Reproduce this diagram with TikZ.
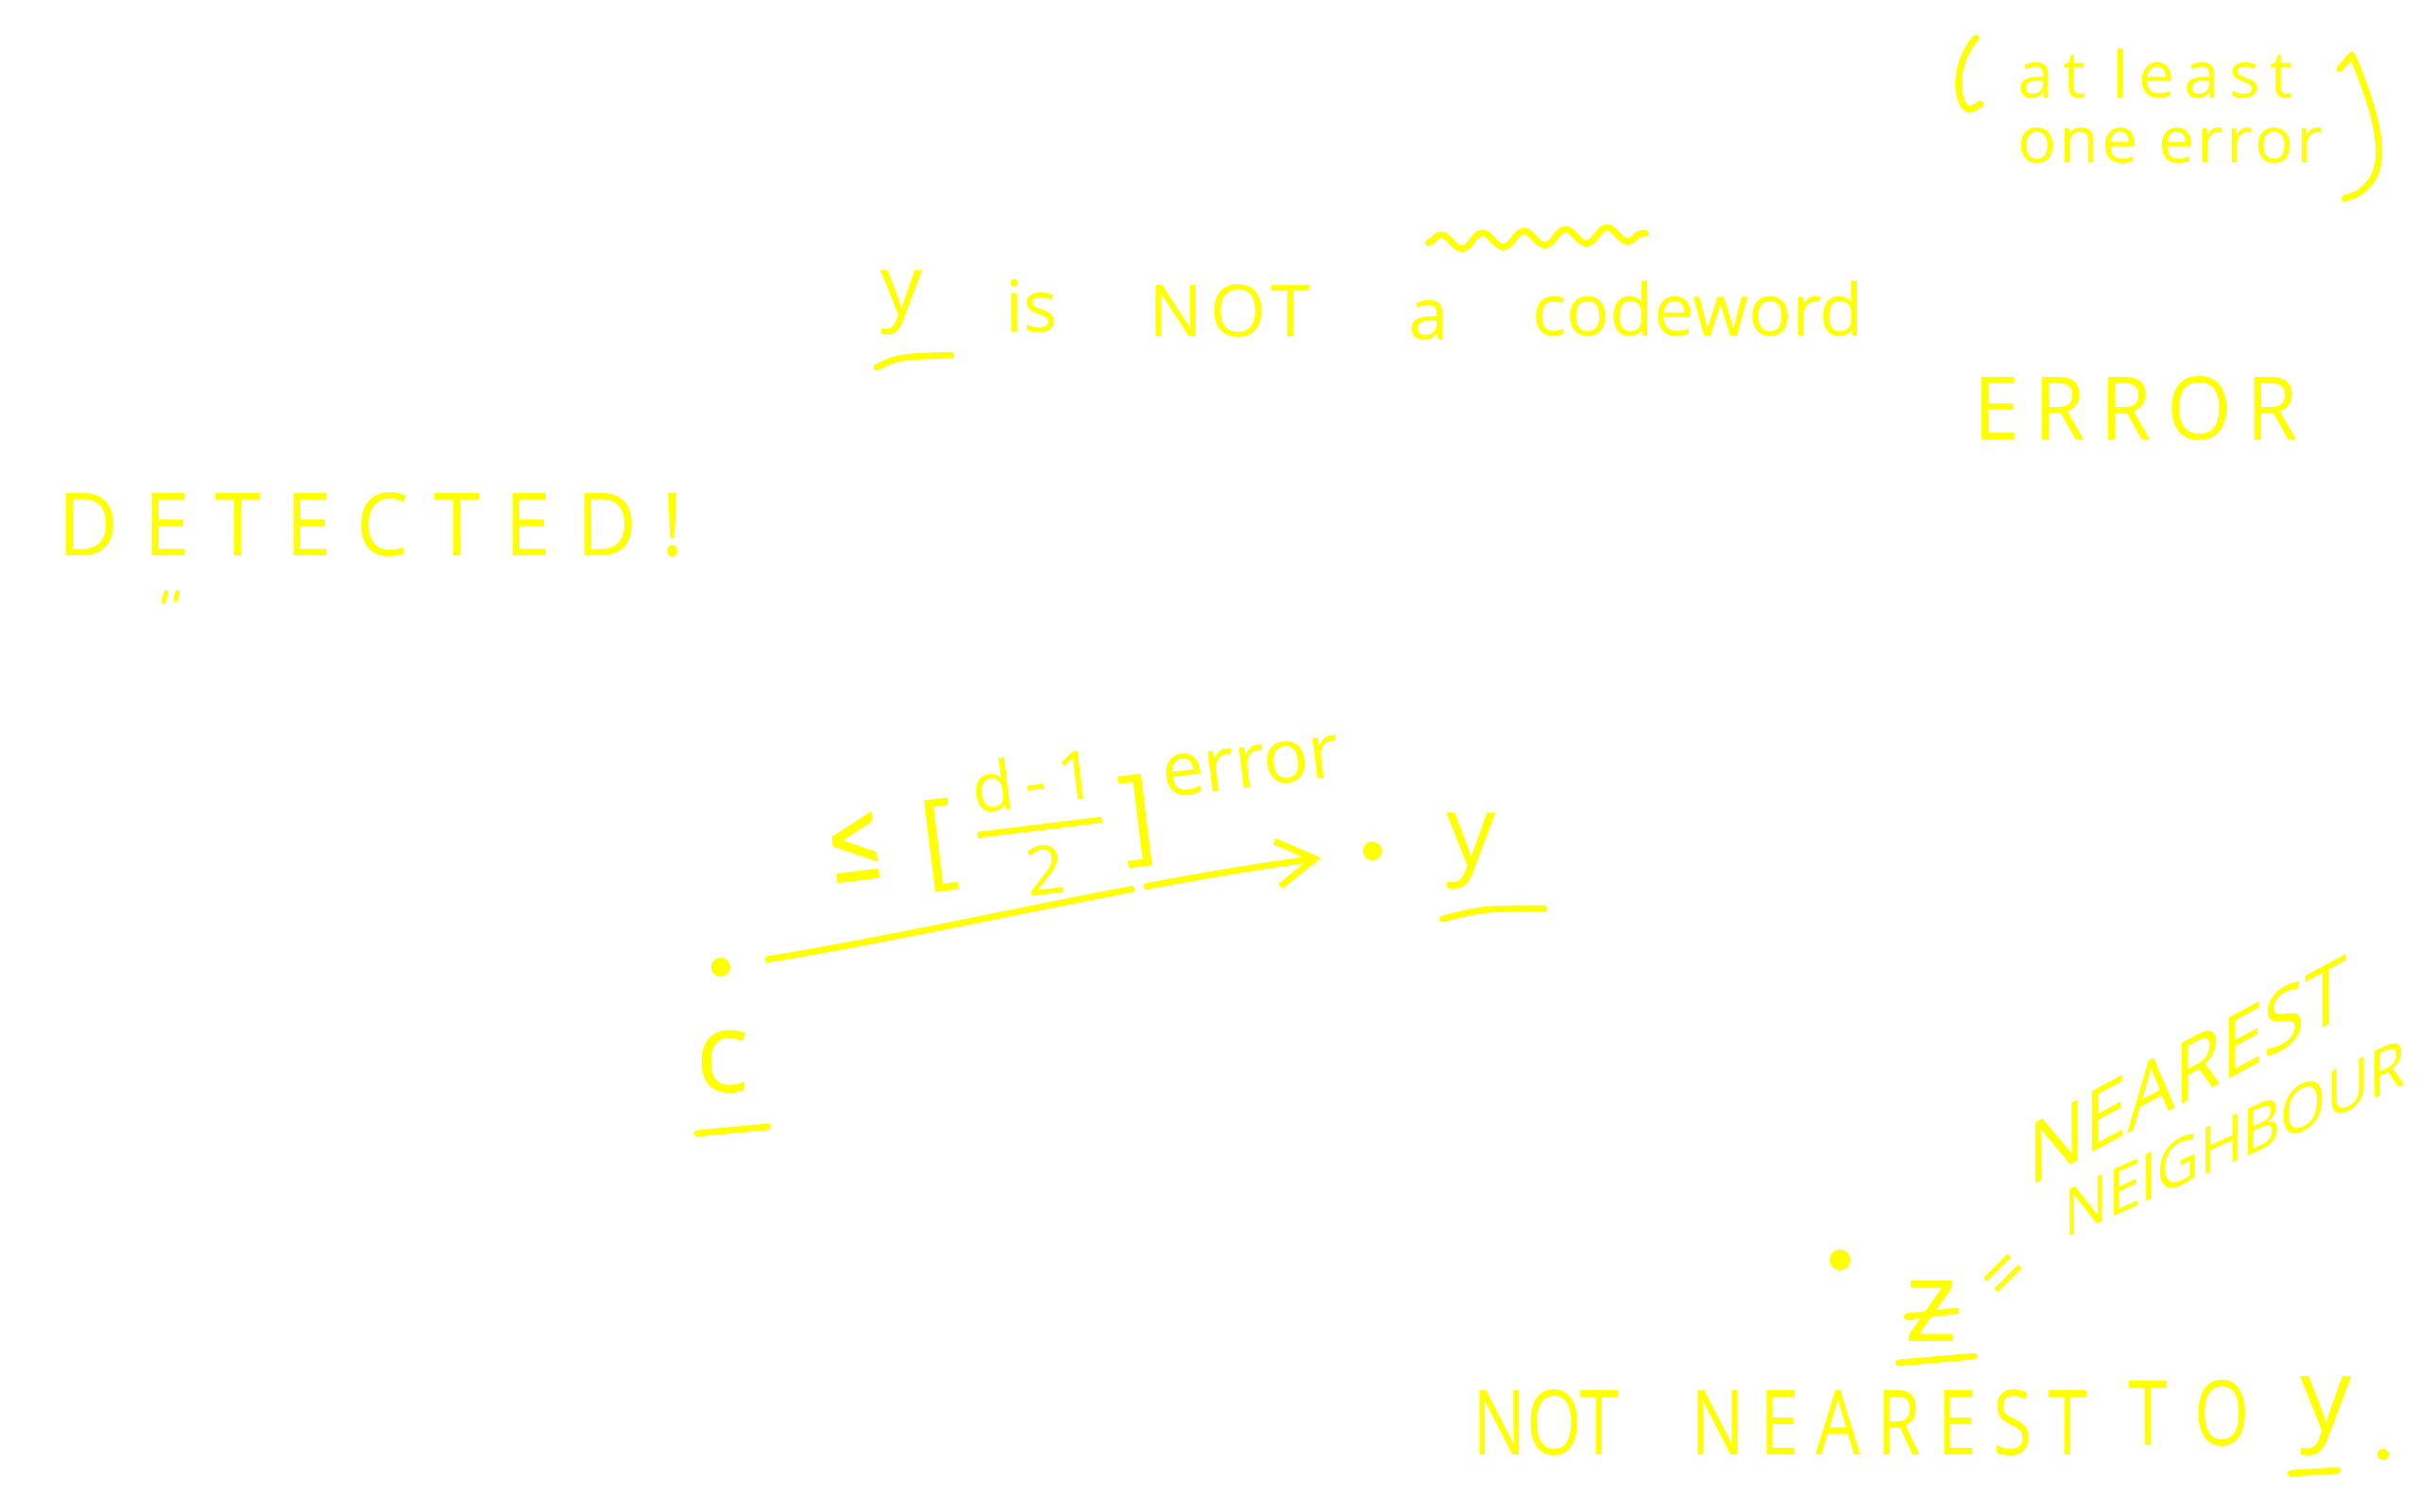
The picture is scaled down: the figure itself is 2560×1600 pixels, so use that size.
\documentclass[tikz,border=0pt]{standalone}
\usepackage{graphicx}
\usepackage{fontspec}
\setmainfont{Open Sans}
\newfontfamily\dvs{DejaVu Sans}
\usetikzlibrary{arrows.meta,decorations.pathmorphing}
\definecolor{pen}{RGB}{255,255,0}
\newcommand\hsz[2]{\fontsize{#1}{#2}\selectfont}
\newcommand\tall[2]{\scalebox{1}[#1]{#2}}
\setlength\arrayrulewidth{1.6pt}
\begin{document}
\begin{tikzpicture}[x=0.25pt,y=-0.25pt,
  ink/.style={draw=pen,line width=1.7pt,line cap=round,line join=round},
  txt/.style={text=pen,inner sep=0pt},
  dot/.style={circle,fill=pen,inner sep=0pt,minimum size=5pt}]
\useasboundingbox[fill=white] (0,0) rectangle (2560,1600);

% (at least one error)
\node[txt,anchor=base,font=\hsz{17pt}{20pt}\addfontfeature{LetterSpace=15}] (al1) at (2282,103) {at least};
\node[txt,anchor=base,font=\hsz{17pt}{20pt}\addfontfeature{LetterSpace=5}] (al2) at (2298,172) {one error};
\draw[ink] (2092,40) .. controls (2070,65) and (2070,100) .. (2080,113) .. controls (2085,117) .. (2097,110);
\draw[ink] (2477,73) -- (2490,58) .. controls (2512,110) and (2530,165) .. (2510,192) .. controls (2498,205) .. (2482,210);

% ERROR
\node[txt,anchor=base,font=\hsz{22pt}{24pt}\addfontfeature{LetterSpace=18}] (err) at (2261,465) {\tall{1.05}{ERROR}};

% y is NOT a codeword
\node[txt,font=\hsz{22pt}{24pt}] (y1) at (955,321) {y};
\node[txt,anchor=base,font=\hsz{19pt}{22pt}] (is) at (1092,351) {is};
\node[txt,anchor=base,font=\hsz{19pt}{22pt}\addfontfeature{LetterSpace=10}] (not1) at (1302,356) {NOT};
\node[txt,anchor=base,font=\hsz{19pt}{22pt}] (a) at (1513,359) {a};
\node[txt,anchor=base,font=\hsz{19pt}{22pt}] (cw) at (1798,355) {codeword};
\draw[ink] (928,389) .. controls (950,378) .. (1007,376);
\draw[ink,decorate,decoration={snake,amplitude=2pt,segment length=11pt}] (1512,257) -- (1742,247);

% DETECTED!
\node[txt,anchor=base,font=\hsz{22pt}{24pt}\addfontfeature{LetterSpace=30}] (det) at (393,588) {\tall{1.05}{DETECTED!}};
\draw[ink,line width=1.2pt] (173,637) -- (176,627) (186,635) -- (188,627);

% c, y and arrow
\node[dot] (c) at (763,1024) {};
\node[txt,anchor=base,font=\hsz{30pt}{32pt}] (cl) at (765,1156) {c};
\draw[ink] (738,1200) -- (813,1193);
\node[dot] (yd) at (1453,901) {};
\node[txt,font=\hsz{26pt}{28pt}] (y2) at (1558,901) {y};
\draw[ink] (1527,973) .. controls (1570,962) .. (1635,962);
\draw[ink,dash pattern={on 98pt off 4pt on 200pt},-{Straight Barb[length=10pt,width=12pt]},shorten <=10pt,shorten >=11pt]
  (c) .. controls (1000,985) and (1200,935) .. (yd);
\node[txt] (lab) at (1150,878)
  {\rotatebox{7}{\raisebox{-2pt}{\dvs\hsz{18pt}{18pt}\tall{1.7}{≤}}\hspace{10pt}\raisebox{-3pt}{\hsz{28pt}{28pt}[}\hspace{6pt}\hsz{18pt}{20pt}\begin{tabular}{@{}c@{}}d\,-\,1\\[-1pt]\hline\rule{0pt}{17pt}2\end{tabular}\hspace{5pt}\raisebox{-3pt}{\hsz{28pt}{28pt}]}\hspace{3pt}\raisebox{10pt}{\hsz{20pt}{22pt}error}}};

% z = nearest neighbour
\node[dot,minimum size=5.5pt] (zd) at (1948,1334) {};
\node[txt,font=\hsz{30pt}{32pt}] (z) at (2045,1388) {z};
\draw[ink] ([shift={(-26,6)}]z.center) -- ([shift={(26,0)}]z.center);
\draw[ink] (2010,1443) -- (2090,1436);
\node[txt,font=\hsz{20pt}{22pt}] (eq) at (2127,1355) {\rotatebox{45}{=}};
\begin{scope}[shift={(2316,1166)},yslant=0.54]
  \node[txt,anchor=base,transform shape,font=\hsz{20pt}{22pt}] (near) at (0,0) {\tall{1.13}{NEAREST}};
\end{scope}
\begin{scope}[shift={(2366,1230)},yslant=0.45]
  \node[txt,anchor=base,transform shape,font=\hsz{15.5pt}{18pt}] (neigh) at (0,0) {\tall{1.12}{NEIGHBOUR}};
\end{scope}

% NOT NEAREST TO y.
\node[txt,anchor=base,font=\hsz{18.75pt}{22pt}] (not2) at (1637,1540) {\tall{1.27}{NOT}};
\node[txt,anchor=base,font=\hsz{18.75pt}{22pt}\addfontfeature{LetterSpace=23}] (near2) at (2000,1540) {\tall{1.27}{NEAREST}};
\node[txt,anchor=base,font=\hsz{18.75pt}{22pt}\addfontfeature{LetterSpace=40}] (to) at (2318,1530) {\tall{1.27}{TO}};
\node[txt,font=\hsz{27pt}{29pt}] (y3) at (2463,1500) {y};
\draw[ink] (2425,1560) -- (2475,1557);
\node[dot,minimum size=3pt] (per) at (2523,1540) {};
\end{tikzpicture}
\end{document}
